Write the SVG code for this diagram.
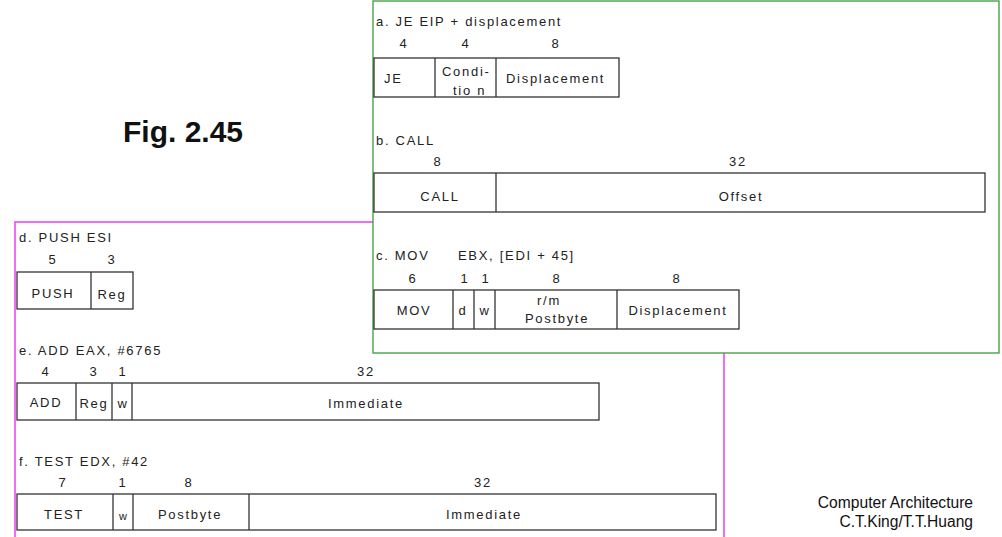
<svg xmlns="http://www.w3.org/2000/svg" width="1002" height="537" viewBox="0 0 1002 537">
<style>
.t{font-family:"Liberation Sans",Arial,sans-serif;font-size:13px;letter-spacing:1.7px;fill:#222}
.c{text-anchor:middle}
.box{fill:#fff;stroke:#333;stroke-width:1.3}
.ln{stroke:#333;stroke-width:1.3}
.cr{font-family:"Liberation Sans",Arial,sans-serif;font-size:15.6px;fill:#111;text-anchor:end}
</style>
<rect width="1002" height="537" fill="#fff"/>
<g id="panel-left">
<rect x="15" y="222" width="709" height="330" fill="none" stroke="#f03cf0" stroke-width="1.5"/>
</g>
<g id="panel-right">
<rect x="373" y="1" width="626" height="352" fill="#fff" stroke="#3a9a3a" stroke-width="1.3"/>
</g>
<g id="title">
<text x="123" y="142" style="font-family:'Liberation Sans',Arial,sans-serif;font-size:30px;font-weight:bold;fill:#111">Fig. 2.45</text>
</g>
<g id="credit">
<text class="cr" x="973" y="508">Computer Architecture</text>
<text class="cr" x="973" y="527">C.T.King/T.T.Huang</text>
</g>
<g id="fmt-je">
<text class="t" x="376" y="26">a. JE EIP + displacement</text>
<text class="t c" x="404" y="48">4</text>
<text class="t c" x="466" y="48">4</text>
<text class="t c" x="556" y="48">8</text>
<rect class="box" x="374" y="58" width="245" height="39"/>
<line class="ln" x1="435" y1="58" x2="435" y2="97"/>
<line class="ln" x1="496" y1="58" x2="496" y2="97"/>
<text class="t" x="384" y="83">JE</text>
<text class="t" x="442" y="76">Condi-</text>
<text class="t" x="453" y="95">tio n</text>
<text class="t" x="506" y="83">Displacement</text>
</g>
<g id="fmt-call">
<text class="t" x="376" y="145">b. CALL</text>
<text class="t c" x="438" y="166">8</text>
<text class="t c" x="738" y="166">32</text>
<rect class="box" x="374" y="173" width="611" height="39"/>
<line class="ln" x1="496" y1="173" x2="496" y2="212"/>
<text class="t c" x="440" y="201">CALL</text>
<text class="t c" x="741" y="201">Offset</text>
</g>
<g id="fmt-mov">
<text class="t" x="376" y="260">c. MOV</text>
<text class="t" x="458" y="260">EBX, [EDI + 45]</text>
<text class="t c" x="413" y="283">6</text>
<text class="t c" x="465" y="283">1</text>
<text class="t c" x="486" y="283">1</text>
<text class="t c" x="557" y="283">8</text>
<text class="t c" x="677" y="283">8</text>
<rect class="box" x="374" y="290" width="365" height="39"/>
<line class="ln" x1="453" y1="290" x2="453" y2="329"/>
<line class="ln" x1="474" y1="290" x2="474" y2="329"/>
<line class="ln" x1="495" y1="290" x2="495" y2="329"/>
<line class="ln" x1="617" y1="290" x2="617" y2="329"/>
<text class="t c" x="414" y="315">MOV</text>
<text class="t c" x="463" y="315">d</text>
<text class="t c" x="485" y="315">w</text>
<text class="t c" x="549" y="305">r/m</text>
<text class="t c" x="557" y="323">Postbyte</text>
<text class="t c" x="678" y="315">Displacement</text>
</g>
<g id="fmt-push">
<text class="t" x="19" y="242">d. PUSH ESI</text>
<text class="t c" x="53" y="264">5</text>
<text class="t c" x="112" y="264">3</text>
<rect class="box" x="17" y="272" width="116" height="37"/>
<line class="ln" x1="91" y1="272" x2="91" y2="309"/>
<text class="t c" x="53" y="298">PUSH</text>
<text class="t c" x="112" y="299">Reg</text>
</g>
<g id="fmt-add">
<text class="t" x="19" y="355">e. ADD EAX, #6765</text>
<text class="t c" x="46" y="376">4</text>
<text class="t c" x="94" y="376">3</text>
<text class="t c" x="123" y="376">1</text>
<text class="t c" x="366" y="376">32</text>
<rect class="box" x="17" y="383" width="582" height="37"/>
<line class="ln" x1="76" y1="383" x2="76" y2="420"/>
<line class="ln" x1="112" y1="383" x2="112" y2="420"/>
<line class="ln" x1="132" y1="383" x2="132" y2="420"/>
<text class="t c" x="46" y="407">ADD</text>
<text class="t c" x="94" y="408">Reg</text>
<text class="t c" x="123" y="408">w</text>
<text class="t c" x="366" y="408">Immediate</text>
</g>
<g id="fmt-test">
<text class="t" x="19" y="466">f. TEST EDX, #42</text>
<text class="t c" x="63" y="487">7</text>
<text class="t c" x="123" y="487">1</text>
<text class="t c" x="189" y="487">8</text>
<text class="t c" x="483" y="487">32</text>
<rect class="box" x="17" y="494" width="699" height="36"/>
<line class="ln" x1="113" y1="494" x2="113" y2="530"/>
<line class="ln" x1="133" y1="494" x2="133" y2="530"/>
<line class="ln" x1="249" y1="494" x2="249" y2="530"/>
<text class="t c" x="64" y="519">TEST</text>
<text class="t c" x="123" y="520" style="font-size:11px;letter-spacing:0">w</text>
<text class="t c" x="190" y="519">Postbyte</text>
<text class="t c" x="484" y="519">Immediate</text>
</g>
<g id="connectors"/>
</svg>
